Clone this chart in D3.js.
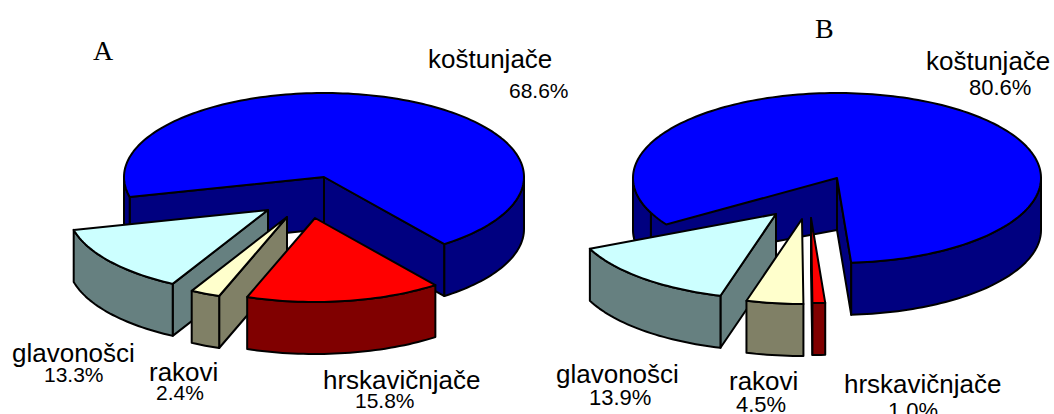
<!DOCTYPE html>
<html>
<head>
<meta charset="utf-8">
<style>
	html, body { margin: 0; padding: 0; background: #fff; overflow: hidden; }
	text { font-family: "Liberation Sans", Arial, sans-serif; fill: #000; }
	text.letter { font-family: "Liberation Serif", "Times New Roman", serif; font-size: 28px; }
	path { stroke: #000; stroke-width: 2; stroke-linejoin: round; }
</style>
<script src="https://cdn.jsdelivr.net/npm/d3@7"></script>
</head>
<body>
<svg id="chart" width="1054" height="414"></svg>
<script>
// clockwise, starting from the cut at the front right of the blue slice
const categories = ["hrskavičnjače", "rakovi", "glavonošci", "koštunjače"];
const valuesA = [15.8, 2.4, 13.3, 68.6];
const valuesB = [1.0, 4.5, 13.9, 80.6];

const topColors = ["#ff0000", "#ffffcc", "#ccffff", "#0000ff"];
const wallColors = ["#800000", "#808066", "#668080", "#000080"];

const panels = [
	{
		letter: "A",
		letterPos: [93, 60],
		values: valuesA,
		cx: 324, cy: 177, rx: 200, ry: 84, depth: 52,
		startDeg: 143,
		overlapDeg: 0,
		offsets: [[-9, 41], [-37, 40], [-56, 33], [0, 0]],
		pctSize: 21,
		labelPos: [[323, 389], [149, 381], [12, 362], [428, 68]],
		pctPos: [[355, 408], [156, 400], [44, 382], [509, 98]],
	},
	{
		letter: "B",
		letterPos: [815, 38],
		values: valuesB,
		cx: 837, cy: 178, rx: 204, ry: 85, depth: 52,
		startDeg: 176,
		overlapDeg: 9,
		offsets: [[-26, 40], [-35, 41], [-61, 36], [0, 0]],
		pctSize: 22,
		labelPos: [[844, 393], [729, 390], [556, 383], [926, 70]],
		pctPos: [[888, 418], [736, 412], [589, 405], [969, 95]],
	},
];

const svg = d3.select("#chart");
const line = d3.line();
const rad = Math.PI / 180;

/**
 * @param  {object} p panel
 * @param  {number} i slice index
 * @param  {number} a angle, clockwise from 12 o'clock
 * @param  {number} r radius share, 0 is the apex
 */
function project(p, i, a, r = 1) {
	const [dx, dy] = p.offsets[i];
	return [p.cx + dx + r * p.rx * Math.sin(a), p.cy + dy - r * p.ry * Math.cos(a)];
}

/**
 * points along the rim between two angles
 */
function rim(p, i, a0, a1) {
	const n = Math.max(2, Math.ceil(Math.abs(a1 - a0) / (1.5 * rad)));
	return d3.range(n + 1).map((k) => project(p, i, a0 + ((a1 - a0) * k) / n));
}

const down = (pts, depth) => pts.map(([x, y]) => [x, y + depth]).reverse();

function drawSlice(g, p, d, i) {
	const slice = g.append("g").attr("class", "slice");
	const apex = project(p, i, 0, 0);
	const { startAngle: a0, endAngle: a1 } = d;

	// cut faces, only those turned towards the viewer
	[[a0, Math.sin(a0) < 0], [a1, Math.sin(a1) > 0]].forEach(([a, visible]) => {
		if (!visible) return;
		const edge = [apex, project(p, i, a)];
		slice.append("path")
			.attr("fill", wallColors[i])
			.attr("d", line(edge.concat(down(edge, p.depth))) + "Z");
	});

	// only the front half of the rim (90 to 270 degrees, also one turn on) can be seen
	[[90, 270], [450, 630]].forEach(([f0, f1]) => {
		const from = Math.max(a0, f0 * rad);
		const to = Math.min(a1, f1 * rad);
		if (to <= from) return;
		const pts = rim(p, i, from, to);
		slice.append("path")
			.attr("fill", wallColors[i])
			.attr("d", line(pts.concat(down(pts, p.depth))) + "Z");
	});

	// largest slice: top runs a little past its wall in panel B
	const topStart = a0 - (i === 3 ? p.overlapDeg * rad : 0);
	slice.append("path")
		.attr("fill", topColors[i])
		.attr("d", line([apex].concat(rim(p, i, topStart, a1))) + "Z");
}

panels.forEach((p) => {
	const pie = d3.pie().sort(null)
		.startAngle(p.startDeg * rad)
		.endAngle(p.startDeg * rad + 2 * Math.PI);
	const arcs = pie(p.values);
	const g = svg.append("g").attr("class", "pie");

	// back to front
	[3, 2, 1, 0].forEach((i) => drawSlice(g, p, arcs[i], i));

	svg.append("text").attr("class", "letter")
		.attr("x", p.letterPos[0]).attr("y", p.letterPos[1]).text(p.letter);

	categories.forEach((name, i) => {
		svg.append("text").attr("font-size", 26)
			.attr("x", p.labelPos[i][0]).attr("y", p.labelPos[i][1]).text(name);
		svg.append("text").attr("font-size", p.pctSize)
			.attr("x", p.pctPos[i][0]).attr("y", p.pctPos[i][1])
			.text(d3.format(".1f")(p.values[i]) + "%");
	});
});
</script>
</body>
</html>
